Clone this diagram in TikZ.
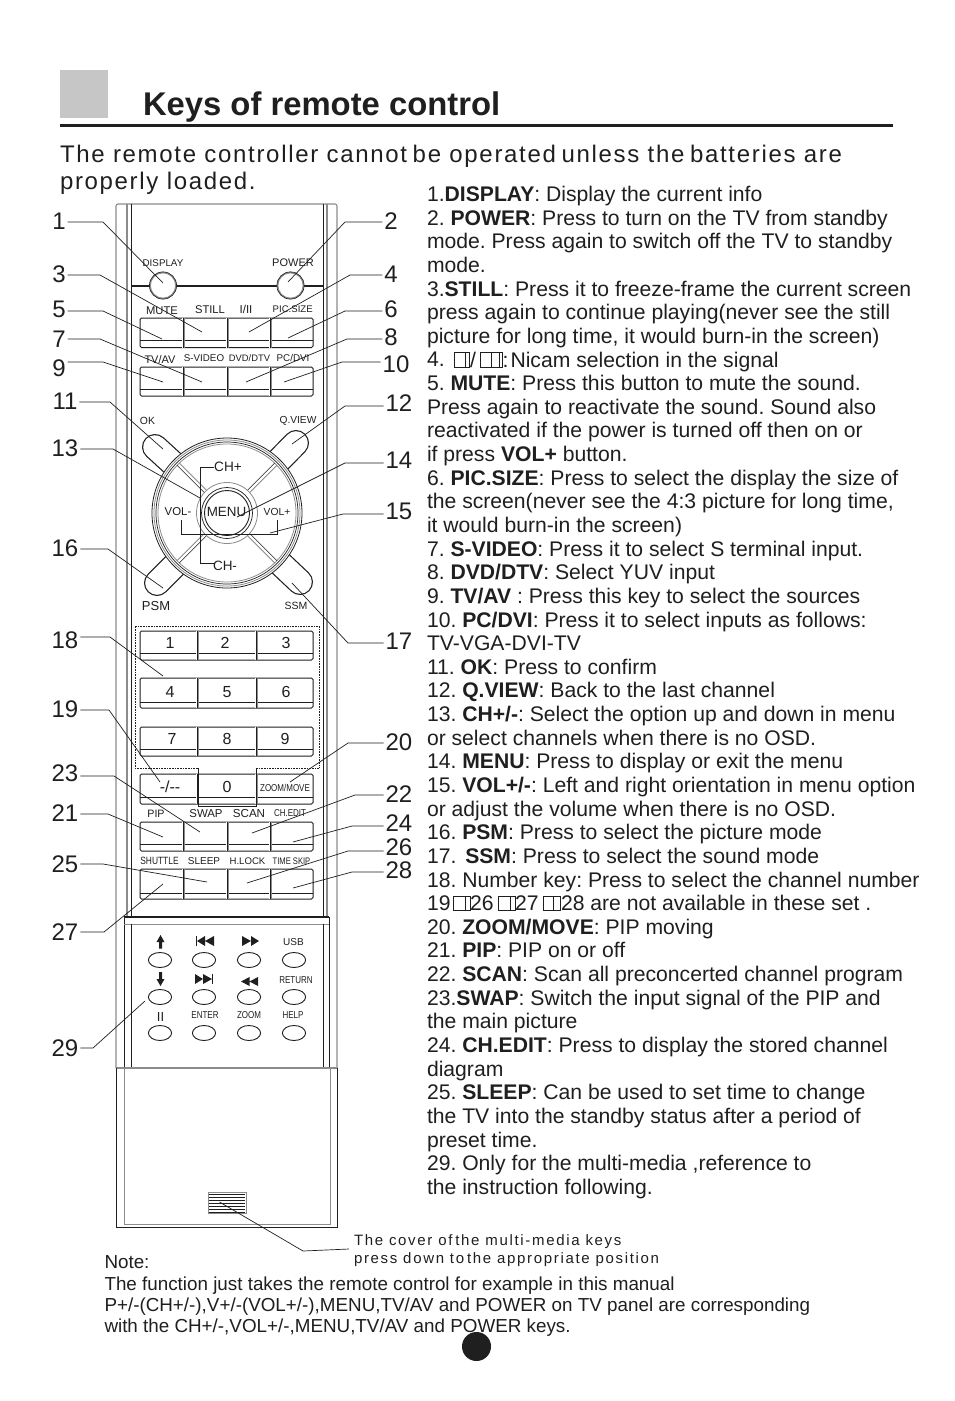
\documentclass[tikz,border=0pt]{standalone}
\usepackage{fontspec}
\setmainfont{Liberation Sans}
\newfontfamily\narrowfont[FakeStretch=0.8]{Liberation Sans}
\newfontfamily\subfont[LetterSpace=7]{Liberation Sans}
\newfontfamily\capfont[LetterSpace=11.2]{Liberation Sans}
\definecolor{ink}{gray}{0.12}
\definecolor{soft}{gray}{0.55}
\tikzset{
  every node/.style={inner sep=0pt,outer sep=0pt},
  bodytext/.style={anchor=base west,text=ink,font=\frenchspacing\fontsize{21.15}{24}\selectfont},
  notetext/.style={anchor=base west,text=ink,font=\frenchspacing\fontsize{18.82}{22}\selectfont},
  captext/.style={anchor=base west,text=ink,font=\capfont\fontsize{15}{18}\selectfont},
  keylabel/.style={text=ink,font=\fontsize{#1}{12}\selectfont},
  keylabel/.default=10,
  narrowlabel/.style={text=ink,font=\narrowfont\fontsize{#1}{12}\selectfont},
  narrowlabel/.default=10,
  digitlabel/.style={text=ink,font=\fontsize{16}{18}\selectfont},
  numlabel/.style={text=ink,inner sep=2pt,font=\fontsize{24}{26}\selectfont},
  leader/.style={draw=ink,line width=0.7pt},
  bodyline/.style={draw=soft,line width=1.1pt},
  bodydark/.style={draw=ink,line width=1pt},
  keyedge/.style={draw=ink,line width=1pt,rounded corners=1.5pt,fill=white},
  keyin/.style={draw=ink,line width=0.6pt},
  glyphbox/.style={draw=ink,line width=0.5pt},
  iconfill/.style={fill=ink,draw=none},
  mediakey/.style={draw=ink,line width=0.9pt,fill=white},
}
\newcommand{\bline}[2]{\node[bodytext] (line#1) at (427,{201.5+23.64*(#1-1)}) {#2};}
\newcommand{\calloutL}[8]{%
  \node[numlabel] (n#1) at (#3,#4) {#2};
  \coordinate (b#1) at (#5,#6);
  \coordinate (e#1) at (#7,#8);
  \draw[leader] (n#1.east |- b#1) -- (b#1) -- (e#1);}
\newcommand{\calloutR}[8]{%
  \node[numlabel] (n#1) at (#3,#4) {#2};
  \coordinate (b#1) at (#5,#6);
  \coordinate (e#1) at (#7,#8);
  \draw[leader] (n#1.west |- b#1) -- (b#1) -- (e#1);}
\newcommand{\keyrow}[4]{%
  \draw[keyedge] (140,#1) rectangle (313,#2);
  \draw[keyin] (140,#3) -- (313,#3);
  \foreach \d in {#4} {
    \draw[draw=white,line width=1.4pt] (\d,#1) -- (\d,#2);
    \draw[draw=soft,line width=1pt] (\d+1,#1) -- (\d+1,#2);
    \draw[draw=ink,line width=0.7pt] (\d,#1) -- (\d,#2);
  }}
\newcommand{\wing}[2]{%
  \draw[draw=ink,line width=26pt,line cap=round] (#1,#2) -- (227,513);
  \draw[draw=white,line width=23.6pt,line cap=round] (#1,#2) -- (227,513);}
\newcommand{\gbox}[3]{\draw[glyphbox] (#1,#3-14.5) rectangle (#2,#3);}
\begin{document}
\begin{tikzpicture}[x=1pt,y=-1pt]
\useasboundingbox (0,0) rectangle (954,1401);
\fill[white] (0,0) rectangle (954,1401);

% header
\fill[gray!45!white] (60,70) rectangle (108,118);
\node[anchor=base west,text=ink,font=\bfseries\fontsize{32.8}{36}\selectfont] (title) at (143,115) {Keys of remote control};
\draw[draw=ink,line width=3pt] (60,125) -- (893,125);
\node[anchor=base west,text=ink,font=\subfont\fontsize{24}{28}\selectfont] (sub1) at (60,162) {The remote controller cannot\hspace{-2.7pt} be operated\hspace{-2.7pt} unless the\hspace{-2.7pt} batteries are};
\node[anchor=base west,text=ink,font=\subfont\fontsize{24}{28}\selectfont] (sub2) at (60,189) {properly loaded.};

% remote body
\draw[bodyline,rounded corners=2pt] (116,1068) -- (116,204) -- (337,204) -- (337,1068);
\draw[bodyline] (127,204) -- (127,917) (327,204) -- (327,917);
\draw[bodydark] (131,204) -- (131,917) (323,204) -- (323,917);
\draw[draw=ink,line width=1.2pt] (124,917) -- (329,917);
\draw[draw=ink,line width=0.8pt] (124,917) -- (124,1068) (329,917) -- (329,1068);
\draw[draw=soft,line width=0.9pt] (124,924) -- (329,924);
\draw[bodydark] (131,924) -- (131,1068) (323,924) -- (323,1068);
\draw[bodyline] (116,1068) -- (337,1068);
\draw[draw=ink,line width=0.8pt] (116,1068) -- (116,1227) -- (337,1227) -- (337,1068);
\draw[draw=soft,line width=0.9pt] (124,1068) -- (124,1224) -- (330,1224) -- (330,1068);

% vent
\draw[draw=soft,line width=1pt,fill=white] (208,1192) rectangle (246,1213);
\foreach \vy in {1194,1197,1200,1203,1206,1209,1212} \draw[draw=ink,line width=0.6pt] (209,\vy) -- (245,\vy);

% power line and round keys
\draw[draw=ink,line width=1.6pt] (131,286) -- (323,286);
\draw[draw=soft,line width=1.6pt,fill=white] (163,285.5) circle (13);
\draw[draw=ink,line width=0.6pt] (163,285.5) circle (13.6);
\draw[draw=soft,line width=1.6pt,fill=white] (290.5,285.5) circle (13);
\draw[draw=ink,line width=0.6pt] (290.5,285.5) circle (13.6);

% key rows
\keyrow{318}{347.5}{340.5}{183,227,270}
\keyrow{367}{396}{389}{183,227,270}
\keyrow{631}{660}{653}{197,256}
\keyrow{678}{708}{702}{197,256}
\keyrow{727}{756}{749}{197,256}
\keyrow{774}{804}{797}{197,256}
\keyrow{822}{851}{844}{183,227,270}
\keyrow{869}{899}{893}{183,227,270}

% numeric pad surround
\draw[draw=ink,line width=0.6pt,densely dotted] (198,768) -- (135,768) -- (135,626) -- (319,626) -- (319,768) -- (256,768);
\draw[draw=ink,line width=0.9pt] (198,768) -- (198,806) -- (256,806) -- (256,768);

% wings
\wing{155}{447}
\wing{296}{443}
\wing{157}{583}
\wing{300}{582}

% pad
\draw[draw=ink,line width=0.8pt,fill=white] (227,513) circle (75);
\draw[draw=soft,line width=0.8pt] (227,513) circle (73);
\draw[draw=ink,line width=0.7pt] (227,513) circle (71);
\draw[draw=soft,line width=0.8pt] (227,513) circle (69);
\begin{scope}[shift={(227,513)}]
\foreach \a in {45,135,225,315} {
  \draw[draw=ink,line width=0.5pt,rotate=\a] (31,-1.6) -- (69,-1.6);
  \draw[draw=soft,line width=0.8pt,rotate=\a] (31,1.6) -- (69,1.6);
}
\end{scope}
\draw[draw=soft,line width=0.8pt] (227,513) circle (30.5);
\draw[draw=ink,line width=0.7pt] (227,513) circle (25.5);
\draw[draw=ink,line width=0.9pt] (227,513) circle (22.5);

% brackets
\draw[draw=ink,line width=0.8pt] (214,467) -- (200,467) -- (200,563) -- (214,563);
\draw[draw=ink,line width=0.8pt] (181,520) -- (181,534) -- (277,534) -- (277,520);

% media keys
\foreach \mx in {160,204,249,294} \foreach \my in {960,997,1033}
  \draw[mediakey] (\mx,\my) ellipse (11.6 and 7.5);

% media icons
\fill[iconfill] (160.5,935) -- (164.5,942) -- (162,942) -- (162,948.5) -- (159,948.5) -- (159,942) -- (156.5,942) -- cycle;
\fill[iconfill] (160.5,986) -- (164.5,979) -- (162,979) -- (162,972) -- (159,972) -- (159,979) -- (156.5,979) -- cycle;
\draw[draw=ink,line width=0.8pt] (196.5,936) -- (196.5,946);
\fill[iconfill] (197,941) -- (205,936) -- (205,946) -- cycle (205,941) -- (214,936) -- (214,946) -- cycle;
\fill[iconfill] (242,936) -- (251,941) -- (242,946) -- cycle (251,936) -- (259,941) -- (251,946) -- cycle;
\fill[iconfill] (195,974) -- (203,979) -- (195,984) -- cycle (203,974) -- (212,979) -- (203,984) -- cycle;
\draw[draw=ink,line width=0.8pt] (212.5,974) -- (212.5,984);
\fill[iconfill] (241,981.5) -- (249.5,977) -- (249.5,986) -- cycle (249.5,981.5) -- (258,977) -- (258,986) -- cycle;

% labels on the remote
\node[keylabel=9.8] (kdisplay) at (163,263) {DISPLAY};
\node[keylabel=11] (kpower) at (293,263) {POWER};
\node[keylabel=11.2] (kmute) at (162,310.5) {MUTE};
\node[keylabel=11.2] (kstill) at (210,309.5) {STILL};
\node[keylabel=11.5] (kii) at (246,309.5) {I/II};
\node[keylabel=9.6] (kpicsize) at (292.7,309.5) {PIC.SIZE};
\node[keylabel=11] (ktvav) at (160,359.5) {TV/AV};
\node[keylabel=9.8] (ksvideo) at (204,358) {S-VIDEO};
\node[keylabel=9.4] (kdvd) at (249.5,358) {DVD/DTV};
\node[keylabel=9.8] (kpc) at (293,358) {PC/DVI};
\node[keylabel=10.4] (kok) at (147.5,421) {OK};
\node[keylabel=10.2] (kqview) at (298,421) {Q.VIEW};
\node[keylabel=13] (kpsm) at (156,606.5) {PSM};
\node[keylabel=10.5] (kssm) at (296,606) {SSM};
\node[keylabel=13.6] (kchp) at (228,466.5) {CH+};
\node[keylabel=13.5] (kchm) at (225,565.5) {CH-};
\node[keylabel=11.4] (kvolm) at (178,512) {VOL-};
\node[keylabel=10.3] (kvolp) at (277,512) {VOL+};
\node[keylabel=13.4] (kmenu) at (226.5,512) {MENU};
\node[digitlabel] (d1) at (170,643) {1};
\node[digitlabel] (d2) at (225,643) {2};
\node[digitlabel] (d3) at (286,643) {3};
\node[digitlabel] (d4) at (170,692) {4};
\node[digitlabel] (d5) at (227,692) {5};
\node[digitlabel] (d6) at (286,692) {6};
\node[digitlabel] (d7) at (172,739) {7};
\node[digitlabel] (d8) at (227,739) {8};
\node[digitlabel] (d9) at (285,739) {9};
\node[digitlabel] (dsw) at (170,787) {{-}/{-}{-}};
\node[digitlabel] (d0) at (227,787) {0};
\node[narrowlabel] (dzoom) at (285,787.5) {ZOOM/MOVE};
\node[keylabel=10.7] (kpip) at (156,813.5) {PIP};
\node[keylabel=11.4] (kswap) at (206,813.5) {SWAP};
\node[keylabel=11.6] (kscan) at (249,813.5) {SCAN};
\node[narrowlabel] (kchedit) at (290,813.5) {CH.EDIT};
\node[narrowlabel=10.5] (kshuttle) at (159.5,861) {SHUTTLE};
\node[keylabel] (ksleep) at (204,861) {SLEEP};
\node[keylabel=9.6] (khlock) at (247.5,861) {H.LOCK};
\node[narrowlabel=9.5] (ktime) at (291.5,861) {TIME SKIP};
\node[keylabel=10] (kusb) at (293.5,942.5) {USB};
\node[narrowlabel] (kreturn) at (296,980.5) {RETURN};
\node[keylabel=13] (kpause) at (160.5,1017.5) {II};
\node[narrowlabel] (kenter) at (205,1015.5) {ENTER};
\node[narrowlabel] (kzoom) at (249,1015.5) {ZOOM};
\node[narrowlabel] (khelp) at (293,1015.5) {HELP};

% callouts
\calloutL{1}{1}{59}{221}{103}{222}{163}{283}
\calloutR{2}{2}{391}{221}{345}{222}{288}{282}
\calloutL{3}{3}{59}{274}{100}{275}{202}{332}
\calloutR{4}{4}{391}{274}{350}{275}{249}{332}
\calloutL{5}{5}{59}{309}{103}{311}{162}{339}
\calloutR{6}{6}{391}{309}{345}{311}{288}{338}
\calloutL{7}{7}{59}{339}{100}{339}{202}{382}
\calloutR{8}{8}{391}{337}{347}{339}{246}{382}
\calloutL{9}{9}{59}{368}{103}{362}{163}{382}
\calloutR{10}{10}{396}{364}{342}{362}{284}{382}
\calloutL{11}{11}{65}{401}{110}{402}{163}{449}
\calloutR{12}{12}{399}{403}{345}{406}{292}{444}
\calloutL{13}{13}{65}{448}{113}{449}{200}{498}
\calloutR{14}{14}{399}{460}{345}{463}{237}{517}
\calloutR{15}{15}{399}{511}{343}{514}{270}{533}
\calloutL{16}{16}{65}{548}{108}{549}{163}{588}
\calloutR{17}{17}{399}{641}{348}{643}{292}{583}
\calloutL{18}{18}{65}{640}{110}{637}{163}{676}
\calloutL{19}{19}{65}{709}{109}{710}{160}{782}
\calloutR{20}{20}{399}{742}{348}{743}{290}{782}
\calloutL{21}{21}{65}{813}{108}{814}{163}{837}
\calloutR{22}{22}{399}{794}{355}{795}{252}{833}
\calloutL{23}{23}{65}{773}{114}{776}{200}{832}
\calloutR{24}{24}{399}{823}{352}{826}{293}{842}
\calloutL{25}{25}{65}{864}{103}{864}{207}{882}
\calloutR{26}{26}{399}{847}{348}{851}{247}{883}
\calloutL{27}{27}{65}{932}{104}{932}{163}{884}
\calloutR{28}{28}{399}{870}{352}{872}{293}{888}
\calloutL{29}{29}{65}{1048}{93}{1048}{145}{1001}

% body text
\bline{1}{1.\textbf{DISPLAY}: Display the current info}
\bline{2}{2. \textbf{POWER}: Press to turn on the TV from standby}
\bline{3}{mode. Press again to switch off the TV to standby}
\bline{4}{mode.}
\bline{5}{3.\textbf{STILL}: Press it to freeze-frame the current screen}
\bline{6}{press again to continue playing(never see the still}
\bline{7}{picture for long time, it would burn-in the screen)}
\bline{8}{4.}
\gbox{454}{465}{367} \gbox{465}{469.5}{367}
\gbox{480}{491}{367} \gbox{491}{499}{367} \gbox{499}{502}{367}
\node[bodytext] (slash) at (470,367) {/};
\node[bodytext] (colon) at (502.5,367) {:};
\node[bodytext] (nicam) at (510.5,367) {Nicam selection in the signal};
\bline{9}{5. \textbf{MUTE}: Press this button to mute the sound.}
\bline{10}{Press again to reactivate the sound. Sound also}
\bline{11}{reactivated if the power is turned off then on or}
\bline{12}{if press \textbf{VOL+} button.}
\bline{13}{6. \textbf{PIC.SIZE}: Press to select the display the size of}
\bline{14}{the screen(never see the 4:3 picture for long time,}
\bline{15}{it would burn-in the screen)}
\bline{16}{7. \textbf{S-VIDEO}: Press it to select S terminal input.}
\bline{17}{8. \textbf{DVD/DTV}: Select YUV input}
\bline{18}{9. \textbf{TV/AV} : Press this key to select the sources}
\bline{19}{10. \textbf{PC/DVI}: Press it to select inputs as follows:}
\bline{20}{TV-VGA-DVI-TV}
\bline{21}{11. \textbf{OK}: Press to confirm}
\bline{22}{12. \textbf{Q.VIEW}: Back to the last channel}
\bline{23}{13. \textbf{CH+/-}: Select the option up and down in menu}
\bline{24}{or select channels when there is no OSD.}
\bline{25}{14. \textbf{MENU}: Press to display or exit the menu}
\bline{26}{15. \textbf{VOL+/-}: Left and right orientation in menu option}
\bline{27}{or adjust the volume when there is no OSD.}
\bline{28}{16. \textbf{PSM}: Press to select the picture mode}
\bline{29}{17. \hspace{3pt}\textbf{SSM}: Press to select the sound mode}
\bline{30}{18. Number key: Press to select the channel number}
\bline{31}{19}
\gbox{453.5}{465}{910.5} \gbox{465}{470}{910.5}
\node[bodytext] (n26txt) at (470,910.7) {26};
\gbox{498}{510}{910.5} \gbox{510}{515}{910.5}
\node[bodytext] (n27txt) at (515,910.7) {27};
\gbox{543}{553}{910.5} \gbox{553}{560}{910.5}
\node[bodytext] (n28txt) at (561,910.7) {28 are not available in these set .};
\bline{32}{20. \textbf{ZOOM/MOVE}: PIP moving}
\bline{33}{21. \textbf{PIP}: PIP on or off}
\bline{34}{22. \textbf{SCAN}: Scan all preconcerted channel program}
\bline{35}{23.\textbf{SWAP}: Switch the input signal of the PIP and}
\bline{36}{the main picture}
\bline{37}{24. \textbf{CH.EDIT}: Press to display the stored channel}
\bline{38}{diagram}
\bline{39}{25. \textbf{SLEEP}: Can be used to set time to change}
\bline{40}{the TV into the standby status after a period of}
\bline{41}{preset time.}
\bline{42}{29. Only for the multi-media ,reference to}
\bline{43}{the instruction following.}

% cover caption
\coordinate (vent) at (219.5,1202);
\coordinate (capbend) at (303,1251);
\coordinate (capend) at (349,1249);
\node[captext] (cap1) at (354,1245) {The cover of\hspace{-3pt} the multi-media keys};
\node[captext] (cap2) at (354,1263) {press down to\hspace{-3pt} the appropriate position};
\draw[leader] (vent) -- (capbend) -- (capend);

% note
\node[notetext] (note0) at (104.5,1268) {Note:};
\node[notetext] (note1) at (104.5,1290) {The function just takes the remote control for example in this manual};
\node[notetext] (note2) at (104.5,1311) {P+/-(CH+/-),V+/-(VOL+/-),MENU,TV/AV and POWER on TV panel are corresponding};
\node[notetext] (note3) at (104.5,1332) {with the CH+/-,VOL+/-,MENU,TV/AV and POWER keys.};
\fill[ink] (476.5,1346.5) circle (14.5);
\end{tikzpicture}
\end{document}
